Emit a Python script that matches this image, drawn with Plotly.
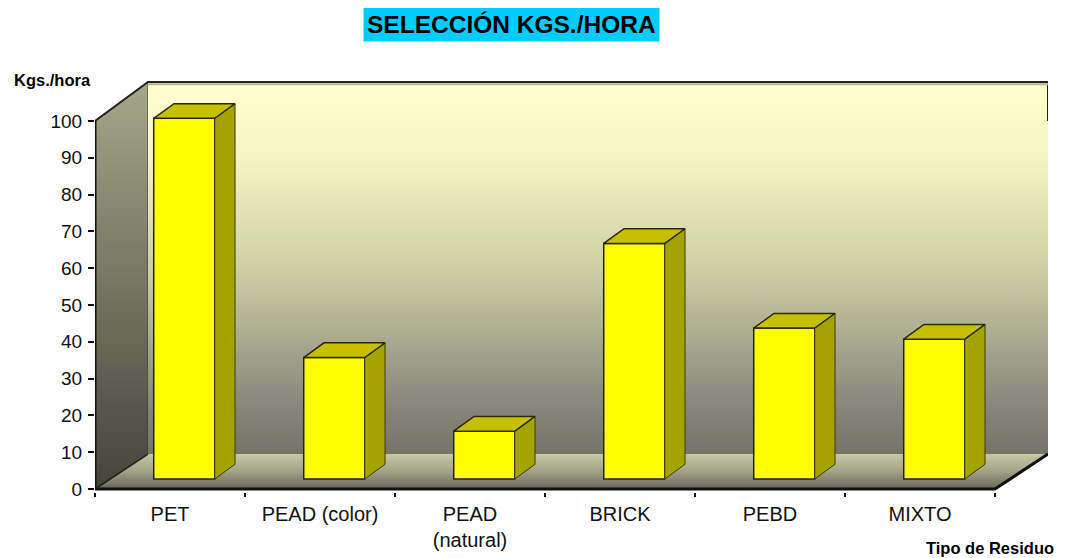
import plotly.graph_objects as go

# ---- data ----
categories = ["PET", "PEAD (color)", "PEAD<br>(natural)", "BRICK", "PEBD", "MIXTO"]
values = [98, 33, 13, 64, 41, 38]
y_ticks = list(range(0, 101, 10))

# ---- geometry of the pseudo-3D box (axis units) ----
DX, DY = 0.3533, 9.5          # full depth shift
WALL_TOP = 110.6
N = len(categories)
BAR_W = 0.407
BAR_XSHIFT = 0.095
BAR_BASE = 2.72
DDX, DDY = 0.135, 4.0         # bar depth

FONT = "Liberation Sans, Arial, sans-serif"

fig = go.Figure()

# side wall
fig.add_trace(go.Scatter(
    x=[0, 0, DX, DX, 0], y=[0, 100, WALL_TOP, DY, 0], mode="lines",
    fill="toself", line=dict(color="#3a3a30", width=1),
    fillgradient=dict(type="vertical", colorscale=[[0, "#44443a"], [1, "#a6a688"]]),
    hoverinfo="skip", showlegend=False))
# back wall
fig.add_trace(go.Scatter(
    x=[DX, N + DX, N + DX, DX, DX], y=[DY, DY, WALL_TOP, WALL_TOP, DY], mode="lines",
    fill="toself", line=dict(color="rgba(0,0,0,0)", width=0),
    fillgradient=dict(type="vertical",
                      colorscale=[[0, "#74746a"], [0.12, "#85857a"], [0.5, "#cfcfa5"],
                                  [0.8, "#f4f4c4"], [1, "#ffffd0"]]),
    hoverinfo="skip", showlegend=False))
# floor
fig.add_trace(go.Scatter(
    x=[0, N, N + DX, DX, 0], y=[0, 0, DY, DY, 0], mode="lines",
    fill="toself", line=dict(color="rgba(0,0,0,0)", width=0),
    fillgradient=dict(type="vertical", colorscale=[[0, "#66665a"], [0.5, "#a2a288"], [1, "#c8c8a2"]]),
    hoverinfo="skip", showlegend=False))
# edges
fig.add_trace(go.Scatter(x=[0, DX, N + DX, N + DX], y=[100, WALL_TOP, WALL_TOP, 100],
                         mode="lines", line=dict(color="#222", width=2),
                         hoverinfo="skip", showlegend=False))
fig.add_trace(go.Scatter(x=[DX, N + DX], y=[WALL_TOP - 0.6, WALL_TOP - 0.6],
                         mode="lines", line=dict(color="#b8b890", width=2),
                         hoverinfo="skip", showlegend=False))
fig.add_trace(go.Scatter(x=[0, 0, N, N + DX], y=[100, 0, 0, DY],
                         mode="lines", line=dict(color="#111", width=3),
                         hoverinfo="skip", showlegend=False))
fig.add_trace(go.Scatter(x=[0, DX], y=[0, DY], mode="lines",
                         line=dict(color="#222", width=1.5),
                         hoverinfo="skip", showlegend=False))

# ---- bars (overlay subplot so they sit on top of the walls) ----
xc = [i + 0.5 + BAR_XSHIFT for i in range(N)]
for i, v in enumerate(values):
    xl = xc[i] - BAR_W / 2
    xr = xc[i] + BAR_W / 2
    top = BAR_BASE + v
    # side face
    fig.add_trace(go.Scatter(
        x=[xr, xr, xr + DDX, xr + DDX, xr], y=[BAR_BASE, top, top + DDY, BAR_BASE + DDY, BAR_BASE],
        mode="lines", fill="toself", fillcolor="#a4a400", line=dict(color="#3a3a00", width=1),
        xaxis="x2", yaxis="y2", hoverinfo="skip", showlegend=False))
    # top face
    fig.add_trace(go.Scatter(
        x=[xl, xr, xr + DDX, xl + DDX, xl], y=[top, top, top + DDY, top + DDY, top],
        mode="lines", fill="toself", fillcolor="#c6c000", line=dict(color="#2a2a00", width=1.5),
        xaxis="x2", yaxis="y2", hoverinfo="skip", showlegend=False))

fig.add_trace(go.Bar(
    x=xc, y=values, base=BAR_BASE, width=BAR_W,
    marker=dict(color="#ffff00", line=dict(color="#222", width=1.5)),
    xaxis="x2", yaxis="y2", showlegend=False))

XR = [0, N + DX]
YR = [-0.815, 111.14]

fig.update_layout(
    width=1057, height=550, autosize=False,
    margin=dict(l=87, r=17, t=72, b=66, autoexpand=False),
    paper_bgcolor="white", plot_bgcolor="white",
    font=dict(family=FONT, color="#111"),
    barmode="overlay",
    xaxis=dict(range=XR, showgrid=False, zeroline=False, showline=False, automargin=False,
               tickmode="array", tickvals=[i + 0.5 for i in range(N)], ticktext=categories,
               ticks="", tickfont=dict(size=20, family=FONT), ticklabelstandoff=8,
               minor=dict(tickmode="array", tickvals=list(range(N + 1)), ticks="outside",
                          ticklen=4, tickcolor="#111", tickwidth=1.5),
               fixedrange=True),
    yaxis=dict(range=YR, showgrid=False, zeroline=False, showline=False, automargin=False,
               tickmode="array", tickvals=y_ticks, ticks="outside", ticklen=6,
               tickcolor="#111", tickwidth=1.5, tickfont=dict(size=19, family=FONT),
               ticklabelstandoff=2, fixedrange=True),
    xaxis2=dict(range=XR, overlaying="x", visible=False, fixedrange=True),
    yaxis2=dict(range=YR, overlaying="y", visible=False, fixedrange=True),
    annotations=[
        dict(text="<b>SELECCIÓN KGS./HORA</b>", xref="paper", yref="paper",
             x=(511 - 95) / 953, y=(492 - 25) / 412, showarrow=False,
             font=dict(size=24.5, family=FONT, color="#000"), bgcolor="#00ccff",
             borderpad=3, xanchor="center", yanchor="middle"),
        dict(text="<b>Kgs./hora</b>", xref="paper", yref="paper",
             x=(52 - 95) / 953, y=(492 - 80) / 412, showarrow=False,
             font=dict(size=16.5, family=FONT, color="#000"), xanchor="center", yanchor="middle"),
        dict(text="<b>Tipo de Residuo</b>", xref="paper", yref="paper",
             x=(990 - 95) / 953, y=(492 - 548) / 412, showarrow=False,
             font=dict(size=16.5, family=FONT, color="#000"), xanchor="center", yanchor="middle"),
    ],
)

fig.write_html("out.html")
